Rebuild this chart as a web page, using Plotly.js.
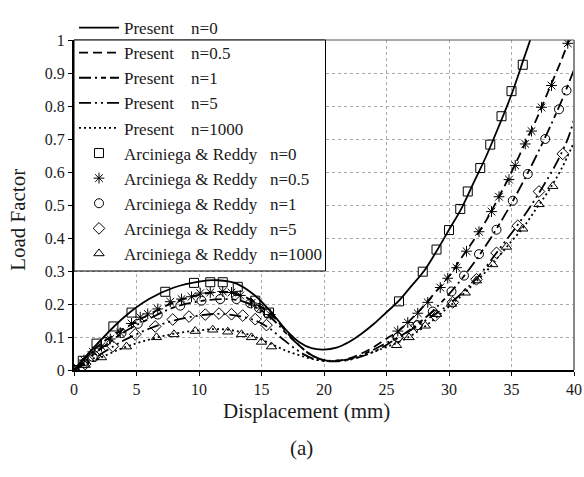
<!DOCTYPE html>
<html>
<head>
<meta charset="utf-8">
<script src="https://cdn.plot.ly/plotly-3.0.1.min.js"></script>
<style>html,body{margin:0;padding:0;background:#fff;}#chart{width:584px;height:477px;}</style>
</head>
<body>
<div id="chart"></div>
<script>
// ---- Present (analytical) curves ----
const p0_x = [0,2,4,6,8,10,11.5,13,14.5,16,17,18,19,20,21,22,23,24,25,26,27,28,29,30,31,32,33,34,35,36,36.5];
const p0_y = [0,0.085,0.16,0.215,0.25,0.268,0.272,0.262,0.225,0.165,0.12,0.085,0.066,0.062,0.068,0.085,0.11,0.14,0.175,0.21,0.255,0.3,0.36,0.425,0.49,0.57,0.65,0.74,0.835,0.945,1.0];

const p05_x = [0,2,4,6,8,10,12,13.5,15,16,17,18,19,20,21,22,23,24,25,26,27,28,29,30,31,32,33,34,35,36,37,38,39,39.6];
const p05_y = [0,0.075,0.125,0.168,0.205,0.228,0.236,0.225,0.19,0.16,0.115,0.075,0.045,0.03,0.028,0.035,0.05,0.07,0.095,0.12,0.155,0.195,0.24,0.285,0.34,0.395,0.455,0.525,0.6,0.68,0.76,0.85,0.94,1.0];

const p1_x = [0,2,4,6,8,10,12,13.5,15,16,17,18,19,20,21,22,23,24,25,26,27,28,29,30,31,32,33,34,35,36,37,38,39,40];
const p1_y = [0,0.06,0.115,0.155,0.19,0.208,0.215,0.208,0.18,0.15,0.11,0.075,0.045,0.03,0.028,0.033,0.045,0.062,0.082,0.1,0.125,0.155,0.19,0.23,0.275,0.325,0.38,0.44,0.505,0.575,0.65,0.73,0.815,0.91];

const p5_x = [0,2,4,6,8,10,11.5,13,14.5,15.5,16.5,17.5,18.5,19.5,20.5,21.5,22.5,23.5,24.5,25.5,26.5,27.5,28.5,29.5,30.5,31.5,32.5,33.5,34.5,35.5,36.5,37.5,38.5,39.5,40];
const p5_y = [0,0.045,0.09,0.125,0.15,0.165,0.17,0.165,0.15,0.13,0.1,0.07,0.045,0.03,0.026,0.028,0.035,0.048,0.065,0.088,0.11,0.135,0.16,0.185,0.215,0.25,0.29,0.34,0.39,0.44,0.495,0.555,0.62,0.7,0.76];

const p1000_x = [0,2,4,6,8,10,11.5,13,14.5,16,17,18,19,20,21,22,23,24,25,26,27,28,29,30,31,32,33,34,35,36,37,38,39,40];
const p1000_y = [0,0.035,0.068,0.092,0.11,0.12,0.124,0.118,0.1,0.075,0.058,0.045,0.034,0.028,0.028,0.032,0.042,0.055,0.07,0.085,0.105,0.13,0.16,0.192,0.225,0.262,0.3,0.345,0.39,0.435,0.49,0.545,0.61,0.69];

// ---- Arciniega & Reddy (reference) points ----
const ar0_x = [0,0.7,1.8,3.15,4.6,7.3,9.6,10.9,11.9,13.1,14.5,15.6,26.0,27.9,29.0,30.0,30.9,31.5,32.5,33.3,34.2,35.0,35.9];
const ar0_y = [0,0.028,0.08,0.132,0.174,0.237,0.264,0.266,0.266,0.252,0.21,0.174,0.208,0.298,0.365,0.424,0.488,0.541,0.612,0.683,0.769,0.845,0.925];

const ar05_x = [0,0.8,1.5,2.2,2.9,3.7,4.6,5.3,5.9,6.7,7.7,8.6,9.4,10.1,10.9,11.9,12.6,13.3,14.2,14.9,15.7,25.9,26.7,27.5,28.3,29.3,29.9,30.6,31.4,32.4,33.4,34.0,34.8,35.3,36.1,36.6,37.4,38.2,39.5];
const ar05_y = [0,0.03,0.055,0.072,0.094,0.113,0.141,0.16,0.17,0.185,0.207,0.215,0.222,0.233,0.235,0.238,0.235,0.226,0.203,0.188,0.168,0.118,0.144,0.172,0.205,0.25,0.278,0.31,0.36,0.419,0.48,0.525,0.577,0.62,0.685,0.724,0.796,0.862,0.99];

const ar1_x = [0,0.8,1.5,2.5,3.8,5.1,6.7,8.5,10.2,11.7,13.0,14.1,14.8,15.5,25.9,27.5,28.7,30.2,31.2,32.4,33.8,35.1,36.3,37.7,38.8,39.4];
const ar1_y = [0,0.02,0.04,0.085,0.112,0.14,0.168,0.195,0.21,0.215,0.215,0.202,0.188,0.171,0.099,0.136,0.177,0.238,0.286,0.351,0.425,0.513,0.594,0.70,0.79,0.847];

const ar5_x = [0,0.9,1.7,3.1,4.9,6.5,7.9,9.2,10.5,11.6,12.6,13.5,14.5,15.4,25.9,27.4,28.9,30.3,32.2,33.8,35.5,37.2,39.1];
const ar5_y = [0,0.018,0.042,0.072,0.108,0.132,0.153,0.162,0.168,0.171,0.169,0.165,0.154,0.136,0.099,0.134,0.165,0.205,0.275,0.355,0.437,0.541,0.655];

const ar1000_x = [0,0.9,2.2,4.2,6.6,8.0,9.7,11.1,12.3,13.4,14.2,15.0,15.8,25.8,26.8,28.1,29.0,30.2,31.3,32.2,33.5,34.6,35.9,37.2,38.3];
const ar1000_y = [0,0.015,0.038,0.071,0.099,0.108,0.118,0.122,0.116,0.108,0.099,0.085,0.071,0.075,0.099,0.134,0.169,0.2,0.234,0.271,0.32,0.373,0.428,0.502,0.557];

const xTicks = [0,5,10,15,20,25,30,35,40];
const yTicks = [0,0.1,0.2,0.3,0.4,0.5,0.6,0.7,0.8,0.9,1];

const presentNames = ['n=0','n=0.5','n=1','n=5','n=1000'];
const arNames = ['n=0','n=0.5','n=1','n=5','n=1000'];

const NB = '\u00a0';
const FONT = 'Liberation Serif';
const TXT = '#1a1a1a';

function lineTrace(x, y, label, dash) {
  return {x: x, y: y, mode: 'lines', type: 'scatter', name: 'Present' + NB.repeat(4) + label,
    line: {color: '#000', width: 1.8, dash: dash, shape: 'spline', smoothing: 1}, hoverinfo: 'skip'};
}
function markTrace(x, y, label, symbol, size) {
  return {x: x, y: y, mode: 'markers', type: 'scatter', name: 'Arciniega & Reddy' + NB.repeat(3) + label,
    marker: {symbol: symbol, size: size, color: '#000', line: {color: '#000', width: 1}}, hoverinfo: 'skip'};
}

const data = [
  lineTrace(p0_x, p0_y, presentNames[0], 'solid'),
  lineTrace(p05_x, p05_y, presentNames[1], '9px,5px'),
  lineTrace(p1_x, p1_y, presentNames[2], '12px,4px,2px,4px,5px,4px'),
  lineTrace(p5_x, p5_y, presentNames[3], '12px,4px,2px,4px,2px,4px'),
  lineTrace(p1000_x, p1000_y, presentNames[4], '2px,3px'),
  markTrace(ar0_x, ar0_y, arNames[0], 'square-open', 9),
  markTrace(ar05_x, ar05_y, arNames[1], 'asterisk-open', 9),
  markTrace(ar1_x, ar1_y, arNames[2], 'circle-open', 9),
  markTrace(ar5_x, ar5_y, arNames[3], 'diamond-open', 9),
  markTrace(ar1000_x, ar1000_y, arNames[4], 'triangle-up-open', 9)
];

const layout = {
  width: 584, height: 477,
  margin: {l: 74, r: 10, t: 16, b: 107},
  paper_bgcolor: '#fff', plot_bgcolor: '#fff',
  font: {family: FONT, color: TXT, size: 16},
  showlegend: true,
  legend: {x: 0, y: 0.3, xanchor: 'left', yanchor: 'bottom', bgcolor: 'rgba(0,0,0,0)',
    borderwidth: 0, itemwidth: 40,
    font: {family: FONT, size: 17, color: TXT}, tracegroupgap: 0},
  xaxis: {range: [0, 40], tickvals: xTicks, ticktext: xTicks.map(String),
    showgrid: true, gridcolor: '#aaa', griddash: 'dot', gridwidth: 1,
    zeroline: false, showline: true, linecolor: '#000', linewidth: 2,
    ticks: 'outside', ticklen: 4, tickcolor: '#000',
    tickfont: {family: FONT, size: 16, color: TXT}},
  yaxis: {range: [0, 1], tickvals: yTicks, ticktext: yTicks.map(String),
    showgrid: true, gridcolor: '#aaa', griddash: 'dot', gridwidth: 1,
    zeroline: false, showline: true, linecolor: '#000', linewidth: 2,
    ticks: 'outside', ticklen: 4, tickcolor: '#000',
    tickfont: {family: FONT, size: 16, color: TXT}},
  shapes: [
    {type: 'line', xref: 'paper', yref: 'paper', x0: 1, x1: 1, y0: 0, y1: 1, line: {color: '#888', width: 2}},
    {type: 'line', xref: 'paper', yref: 'paper', x0: 0, x1: 1, y0: 1, y1: 1, line: {color: '#555', width: 1}},
    {type: 'rect', xref: 'paper', yref: 'paper', x0: 0, x1: 0.503, y0: 0.3, y1: 1, layer: 'above',
      fillcolor: '#fff', line: {color: '#000', width: 1}}
  ],
  annotations: [
    {text: 'Load Factor', xref: 'paper', yref: 'paper', x: -0.112, y: 0.455, textangle: -90,
      showarrow: false, xanchor: 'center', yanchor: 'middle', font: {family: FONT, size: 21, color: TXT}},
    {text: 'Displacement (mm)', xref: 'paper', yref: 'paper', x: 0.465, y: -0.125,
      showarrow: false, xanchor: 'center', yanchor: 'middle', font: {family: FONT, size: 21, color: TXT}},
    {text: '(a)', xref: 'paper', yref: 'paper', x: 0.455, y: -0.235,
      showarrow: false, xanchor: 'center', yanchor: 'middle', font: {family: FONT, size: 21, color: TXT}}
  ]
};

Plotly.newPlot('chart', data, layout, {displayModeBar: false, staticPlot: true});
</script>
</body>
</html>
